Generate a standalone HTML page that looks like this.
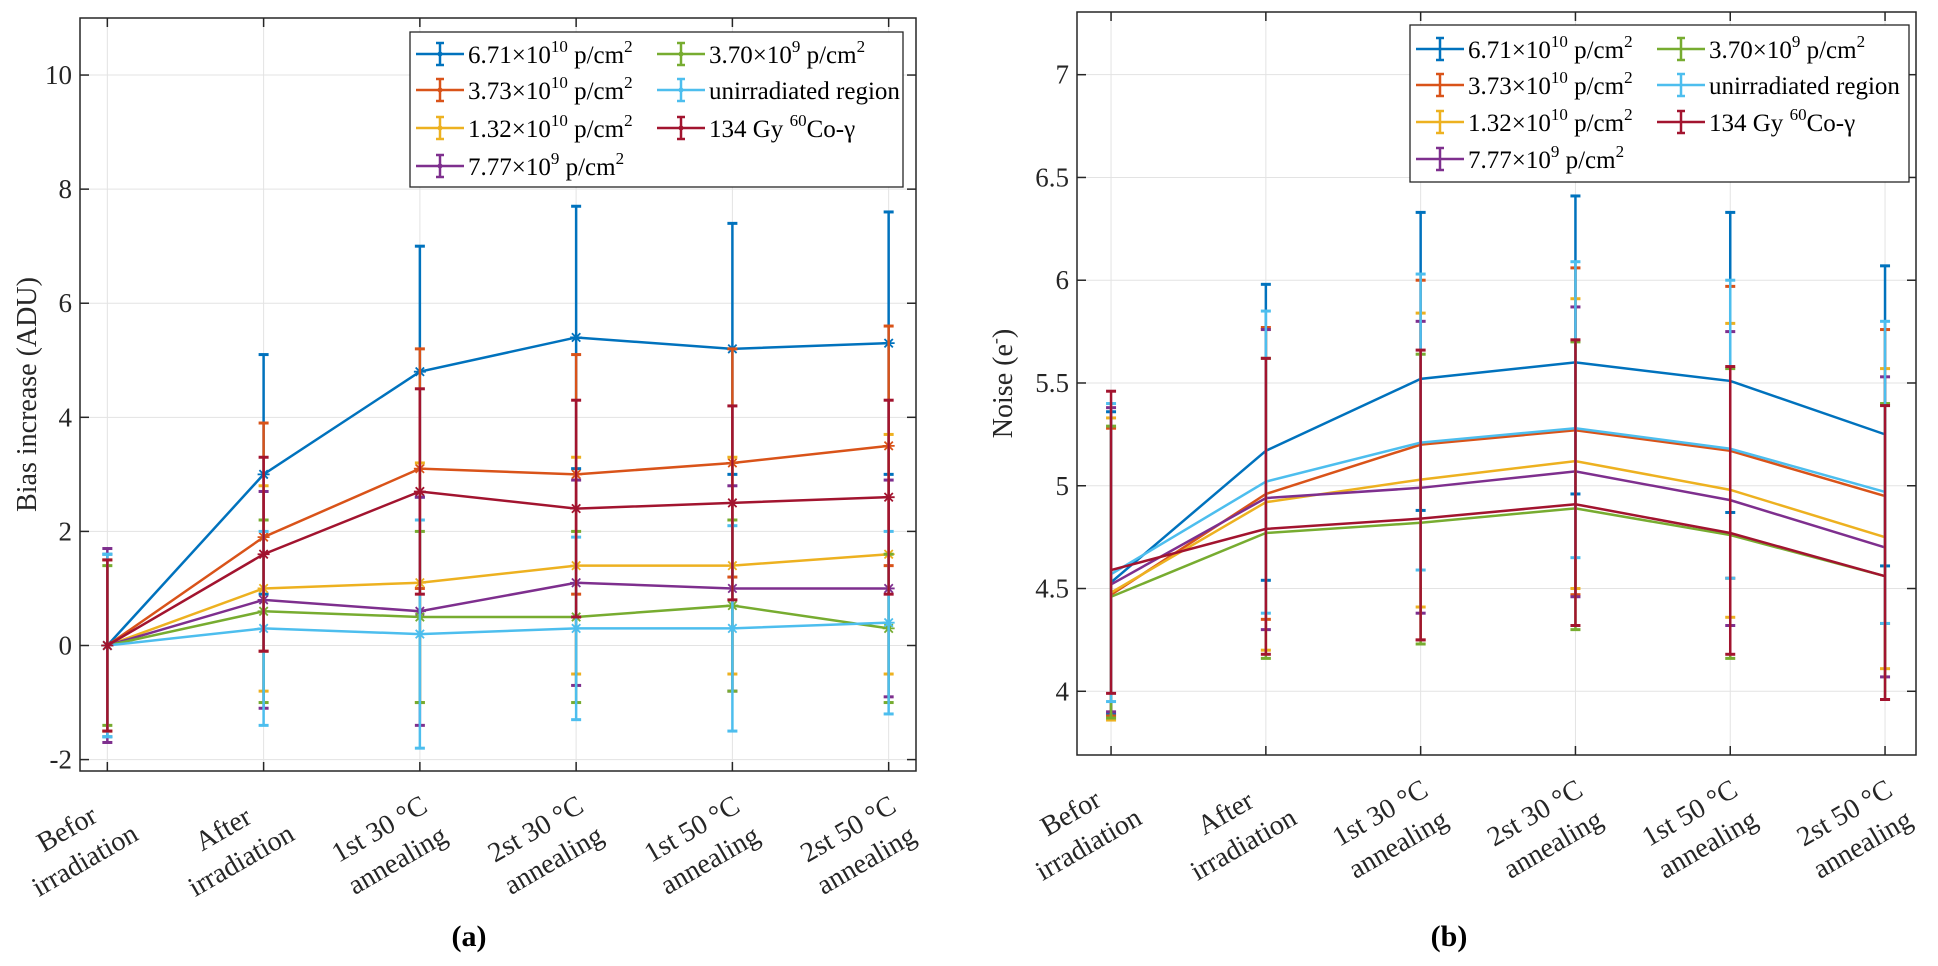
<!DOCTYPE html>
<html><head><meta charset="utf-8">
<style>
html,body{margin:0;padding:0;background:#fff;}
svg{display:block;font-family:"Liberation Serif",serif;}
</style></head>
<body>
<svg id="fig" width="1938" height="966" viewBox="0 0 1938 966"></svg>
<script>
const categories = [["Befor","irradiation"],["After","irradiation"],["1st 30 °C","annealing"],["2st 30 °C","annealing"],["1st 50 °C","annealing"],["2st 50 °C","annealing"]];
const seriesNames = ["s671e10","s373e10","s132e10","s777e9","s370e9","unirr","co60"];
const seriesColors = ["#0072BD","#D95319","#EDB120","#7E2F8E","#77AC30","#4DBEEE","#A2142F"];
// Panel (a): bias increase (ADU)
const biasBlue   = [0,3.0,4.8,5.4,5.2,5.3];
const biasOrange = [0,1.9,3.1,3.0,3.2,3.5];
const biasYellow = [0,1.0,1.1,1.4,1.4,1.6];
const biasPurple = [0,0.8,0.6,1.1,1.0,1.0];
const biasGreen  = [0,0.6,0.5,0.5,0.7,0.3];
const biasCyan   = [0,0.3,0.2,0.3,0.3,0.4];
const biasRed    = [0,1.6,2.7,2.4,2.5,2.6];
const biasErrBlue   = [1.6,2.1,2.2,2.3,2.2,2.3];
const biasErrOrange = [1.5,2.0,2.1,2.1,2.0,2.1];
const biasErrYellow = [1.5,1.8,2.1,1.9,1.9,2.1];
const biasErrPurple = [1.7,1.9,2.0,1.8,1.8,1.9];
const biasErrGreen  = [1.4,1.6,1.5,1.5,1.5,1.3];
const biasErrCyan   = [1.6,1.7,2.0,1.6,1.8,1.6];
const biasErrRed    = [1.5,1.7,1.8,1.9,1.7,1.7];
const biasTicks = [-2,0,2,4,6,8,10];
// Panel (b): noise (e-)
const noiseBlue   = [4.53,5.17,5.52,5.60,5.51,5.25];
const noiseOrange = [4.47,4.96,5.20,5.27,5.17,4.95];
const noiseYellow = [4.48,4.92,5.03,5.12,4.98,4.75];
const noisePurple = [4.52,4.94,4.99,5.07,4.93,4.70];
const noiseGreen  = [4.46,4.77,4.82,4.89,4.76,4.56];
const noiseCyan   = [4.57,5.02,5.21,5.28,5.18,4.97];
const noiseRed    = [4.59,4.79,4.84,4.91,4.77,4.56];
// error bar bounds (lower / upper)
const noiseLowBlue   = [3.89,4.54,4.88,4.96,4.87,4.61];
const noiseLowOrange = [3.88,4.35,4.25,4.47,4.55,4.33];
const noiseLowYellow = [3.86,4.20,4.41,4.50,4.36,4.11];
const noiseLowPurple = [3.90,4.30,4.38,4.46,4.32,4.07];
const noiseLowGreen  = [3.87,4.16,4.23,4.30,4.16,3.96];
const noiseLowCyan   = [3.95,4.38,4.59,4.65,4.55,4.33];
const noiseLowRed    = [3.99,4.18,4.25,4.32,4.18,3.96];
const noiseHighBlue   = [5.36,5.98,6.33,6.41,6.33,6.07];
const noiseHighOrange = [5.28,5.77,6.00,6.06,5.97,5.76];
const noiseHighYellow = [5.33,5.76,5.84,5.91,5.79,5.57];
const noiseHighPurple = [5.38,5.76,5.80,5.87,5.75,5.53];
const noiseHighGreen  = [5.29,5.62,5.64,5.70,5.57,5.40];
const noiseHighCyan   = [5.40,5.85,6.03,6.09,6.00,5.80];
const noiseHighRed    = [5.46,5.62,5.66,5.71,5.58,5.39];
const noiseTicks = [4,4.5,5,5.5,6,6.5,7];
const noiseTickLabels = ["4","4.5","5","5.5","6","6.5","7"];

const NS="http://www.w3.org/2000/svg";
const svg=document.getElementById('fig');
function el(tag,attrs,parent){const e=document.createElementNS(NS,tag);for(const k in attrs)e.setAttribute(k,attrs[k]);(parent||svg).appendChild(e);return e;}

function legend(g,x0,y0,w,h,rows,markers){
  const box=el('rect',{x:x0,y:y0,width:w,height:h,fill:'#fff',stroke:'#262626','stroke-width':1.3},g);
  
  
  const entries=[
    {c:0,r:0,t:['6.71×10','10',' p/cm','2']},
    {c:0,r:1,t:['3.73×10','10',' p/cm','2']},
    {c:0,r:2,t:['1.32×10','10',' p/cm','2']},
    {c:0,r:3,t:['7.77×10','9',' p/cm','2']},
    {c:1,r:0,t:['3.70×10','9',' p/cm','2']},
    {c:1,r:1,t:['unirradiated region']},
    {c:1,r:2,t:['134 Gy ','60','Co-γ']},
  ];
  entries.forEach((en,i)=>{
    const eg=el('g',{},g);
    
    
    const lx=x0+6+en.c*241, by=rows[en.r], cy=by-9;
    el('line',{x1:lx,y1:cy,x2:lx+48,y2:cy,stroke:seriesColors[i],'stroke-width':2.5},eg);
    el('line',{x1:lx+24,y1:cy-11,x2:lx+24,y2:cy+11,stroke:seriesColors[i],'stroke-width':2.5},eg);
    el('line',{x1:lx+20,y1:cy-11,x2:lx+28,y2:cy-11,stroke:seriesColors[i],'stroke-width':2.5},eg);
    el('line',{x1:lx+20,y1:cy+11,x2:lx+28,y2:cy+11,stroke:seriesColors[i],'stroke-width':2.5},eg);
    if(markers) el('circle',{cx:lx+24,cy:cy,r:2.5,fill:seriesColors[i]},eg);
    const t=el('text',{x:lx+52,y:by,'font-size':25,fill:'#000'},eg);
    en.t.forEach((s,j)=>{
      const sp=el('tspan',{},t);sp.textContent=s;
      const isSup=(en.t.length===4&&(j===1||j===3))||(en.t.length===3&&j===1);
      if(isSup){sp.setAttribute('font-size','17');sp.setAttribute('dy','-11');}
      else if(j>0){sp.setAttribute('dy','11');}
    });
  });
}

function panel(o){
  const g=el('g',{});
  
  
  const X=i=>o.L+(i+1-o.xmin)/(o.xmax-o.xmin)*(o.R-o.L);
  const Y=v=>o.B-(v-o.ymin)/(o.ymax-o.ymin)*(o.B-o.T);
  const grid=el('g',{stroke:'#e3e3e3','stroke-width':1},g);
  
  
  categories.forEach((c,i)=>el('line',{x1:X(i),y1:o.T,x2:X(i),y2:o.B},grid));
  o.ticks.forEach(t=>el('line',{x1:o.L,y1:Y(t),x2:o.R,y2:Y(t)},grid));
  o.series.forEach((vals,si)=>{
    const sg=el('g',{},g);
    
    
    const col=seriesColors[si];
    vals.forEach((v,i)=>{
      const x=X(i);
      const lo=o.lows?o.lows[si][i]:v-o.errs[si][i];
      const hi=o.highs?o.highs[si][i]:v+o.errs[si][i];
      el('line',{x1:x,y1:Y(lo),x2:x,y2:Y(hi),stroke:col,'stroke-width':2.5},sg);
      el('line',{x1:x-5,y1:Y(lo),x2:x+5,y2:Y(lo),stroke:col,'stroke-width':3},sg);
      el('line',{x1:x-5,y1:Y(hi),x2:x+5,y2:Y(hi),stroke:col,'stroke-width':3},sg);
    });
    const pl=el('polyline',{points:vals.map((v,i)=>X(i)+','+Y(v)).join(' '),fill:'none',stroke:col,'stroke-width':2.5},sg);
    
    
    if(o.markers){
      vals.forEach((v,i)=>{
        const x=X(i),y=Y(v),r=6;
        const m=el('path',{d:`M${x-r},${y}H${x+r}M${x},${y-r}V${y+r}M${x-r*.7},${y-r*.7}L${x+r*.7},${y+r*.7}M${x-r*.7},${y+r*.7}L${x+r*.7},${y-r*.7}`,stroke:col,'stroke-width':1.8,fill:'none'},sg);
        
        
      });
    }
  });
  const ax=el('g',{stroke:'#262626','stroke-width':1.5,fill:'none'},g);
  
  
  el('rect',{x:o.L,y:o.T,width:o.R-o.L,height:o.B-o.T},ax);
  categories.forEach((c,i)=>{
    el('line',{x1:X(i),y1:o.B,x2:X(i),y2:o.B-9},ax);
    el('line',{x1:X(i),y1:o.T,x2:X(i),y2:o.T+9},ax);
  });
  o.ticks.forEach(t=>{
    el('line',{x1:o.L,y1:Y(t),x2:o.L+9,y2:Y(t)},ax);
    el('line',{x1:o.R,y1:Y(t),x2:o.R-9,y2:Y(t)},ax);
  });
  const yt=el('g',{'font-size':27,fill:'#262626','text-anchor':'end'},g);
  
  
  o.ticks.forEach((t,k)=>{const tx=el('text',{x:o.L-8,y:Y(t)+9},yt);tx.textContent=o.tickLabels[k];});
  const xt=el('g',{'font-size':28,fill:'#262626','text-anchor':'middle'},g);
  
  
  categories.forEach((c,i)=>{
    const lg=el('g',{transform:`translate(${X(i)-18},${o.B+97}) rotate(-30)`},xt);
    const t1=el('text',{x:0,y:-36},lg);t1.textContent=c[0];
    const t2=el('text',{x:0,y:0},lg);t2.textContent=c[1];
  });
  const yl=el('text',{transform:`translate(${o.ylx},${(o.T+o.B)/2}) rotate(-90)`,'text-anchor':'middle','font-size':28,fill:'#262626'},g);
  
  
  o.ylabel.forEach((s,j)=>{const sp=el('tspan',{},yl);sp.textContent=s;if(j===1){sp.setAttribute('font-size','18');sp.setAttribute('dy','-11');}if(j===2){sp.setAttribute('dy','11');}});
  const cap=el('text',{x:o.capx,y:946,'text-anchor':'middle','font-size':30,'font-weight':'bold',fill:'#000'},g);
  
  
  cap.textContent=o.cap;
  const lg=el('g',{},g);
  
  
  legend(lg,o.lx,o.ly,o.lw,o.lh,o.rows,o.markers);
}

panel({name:'bias-panel',L:80,R:916,T:18,B:771,xmin:0.825,xmax:6.175,ymin:-2.2,ymax:11,
  ticks:biasTicks,tickLabels:biasTicks.map(String),
  series:[biasBlue,biasOrange,biasYellow,biasPurple,biasGreen,biasCyan,biasRed],
  errs:[biasErrBlue,biasErrOrange,biasErrYellow,biasErrPurple,biasErrGreen,biasErrCyan,biasErrRed],
  markers:true,ylabel:['Bias increase (ADU)'],ylx:36,cap:'(a)',capx:469,
  lx:410,ly:32,lw:493,lh:155,rows:[63,99,137,175]});
panel({name:'noise-panel',L:1077,R:1916,T:12,B:755,xmin:0.78,xmax:6.2,ymin:3.69,ymax:7.305,
  ticks:noiseTicks,tickLabels:noiseTickLabels,
  series:[noiseBlue,noiseOrange,noiseYellow,noisePurple,noiseGreen,noiseCyan,noiseRed],
  lows:[noiseLowBlue,noiseLowOrange,noiseLowYellow,noiseLowPurple,noiseLowGreen,noiseLowCyan,noiseLowRed],
  highs:[noiseHighBlue,noiseHighOrange,noiseHighYellow,noiseHighPurple,noiseHighGreen,noiseHighCyan,noiseHighRed],
  markers:false,ylabel:['Noise (e','-',')'],ylx:1012,cap:'(b)',capx:1449,
  lx:1410,ly:25,lw:499,lh:157,rows:[58,94,131,168]});
</script>
</body></html>
